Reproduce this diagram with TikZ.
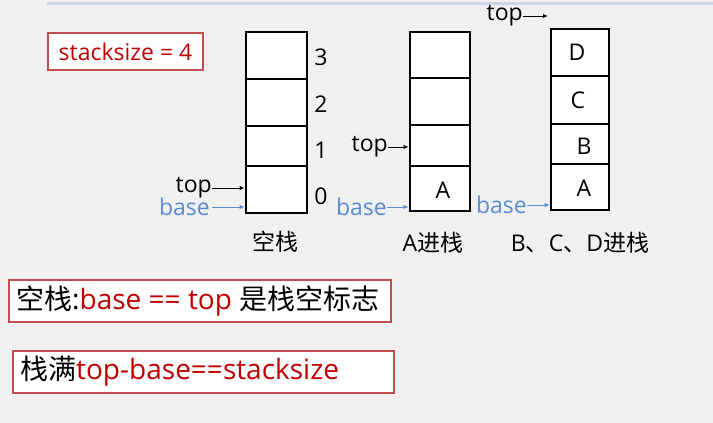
\documentclass[tikz,border=0pt]{standalone}
\usepackage{fontspec}
\setmainfont{Open Sans}
\newfontfamily\cjk{Noto Sans CJK SC}
\usetikzlibrary{arrows.meta}
\definecolor{bg}{HTML}{F0F0F0}
\definecolor{redtxt}{HTML}{C00000}
\definecolor{redline}{HTML}{C0504D}
\definecolor{basecol}{HTML}{5B8BD3}
\definecolor{topline}{HTML}{C9D7E6}
\tikzset{
  cell/.style={draw=black, line width=2.8pt, fill=white, inner sep=0pt},
  lbl/.style={inner sep=0pt, font=\fontsize{23}{25}\selectfont},
  redbox/.style={draw=redline, line width=1.5pt, fill=white},
  ptr/.style={-{Latex[length=5pt,width=4.5pt]}, line width=1pt},
  bptr/.style={ptr, draw=basecol},
}
\begin{document}
\begin{tikzpicture}[x=1pt,y=-1pt]
\fill[bg] (0,0) rectangle (713,423);
\useasboundingbox (0,0) rectangle (713,423);
\draw[topline, line width=3pt] (47,3) -- (713,3);

% stacksize box
\node[redbox, lbl, text=redtxt, minimum width=155pt, minimum height=37pt] (ss) at (125.5,51.5) {stacksize = 4};

% stack 1
\node[cell, minimum width=61pt, minimum height=47pt] (a3) at (276.5,55.5) {};
\node[cell, minimum width=61pt, minimum height=47pt] (a2) at (276.5,102.5) {};
\node[cell, minimum width=61pt, minimum height=40pt] (a1) at (276.5,146) {};
\node[cell, minimum width=61pt, minimum height=47pt] (a0) at (276.5,189.5) {};
\node[lbl] (n3) at (321,57) {3};
\node[lbl] (n2) at (321,104) {2};
\node[lbl] (n1) at (321,150) {1};
\node[lbl] (n0) at (321,196) {0};
\node[lbl, anchor=east] (top1) at (212,188) {top};
\node[lbl, anchor=east, text=basecol] (base1) at (210,207) {base};
\draw[ptr] (top1.east) -- (top1.east -| a0.west);
\draw[bptr] (base1.east) ++(2,0) -- (base1.east -| a0.west);
\node[lbl] (cap1) at (275,242) {\cjk 空栈};

% stack 2
\node[cell, minimum width=60pt, minimum height=46pt] (b3) at (440,55) {};
\node[cell, minimum width=60pt, minimum height=47pt] (b2) at (440,101.5) {};
\node[cell, minimum width=60pt, minimum height=41pt] (b1) at (440,145.5) {};
\node[cell, minimum width=60pt, minimum height=45pt] (b0) at (440,188.5) {};
\node[lbl] (bA) at (443,190) {A};
\node[lbl, anchor=east] (top2) at (388,147) {top};
\node[lbl, anchor=east, text=basecol] (base2) at (387,207) {base};
\draw[ptr] (top2.east) -- (top2.east -| b1.west);
\draw[bptr] (base2.east) -- (base2.east -| b0.west);
\node[lbl] (cap2) at (433,243) {A\cjk 进栈};

% stack 3
\node[cell, minimum width=58pt, minimum height=47pt] (c3) at (580,52.5) {};
\node[cell, minimum width=58pt, minimum height=48pt] (c2) at (580,100) {};
\node[cell, minimum width=58pt, minimum height=40pt] (c1) at (580,144) {};
\node[cell, minimum width=58pt, minimum height=46pt] (c0) at (580,187) {};
\node[lbl] (cD) at (577,52) {D};
\node[lbl] (cC) at (578,100) {C};
\node[lbl] (cB) at (584,146) {B};
\node[lbl] (cA) at (584,188) {A};
\node[lbl, anchor=east] (top3) at (523,16) {top};
\coordinate (top3end) at (548,15);
\draw[ptr] (top3.east) -- (top3.east -| top3end);
\node[lbl, anchor=east, text=basecol] (base3) at (527,205) {base};
\draw[bptr] (base3.east) -- (base3.east -| c0.west);
\node[lbl] (cap3) at (580,243) {B{\cjk 、}C{\cjk 、}D{\cjk 进栈}};

% bottom boxes
\node[redbox, anchor=north west, minimum width=382pt, minimum height=42pt, inner sep=0pt] (box1) at (8,279) {};
\node[anchor=west, inner sep=0pt, font=\fontsize{28}{30}\selectfont] (t1) at (16,301) {{\cjk 空栈}:\textcolor{redtxt}{base == top} {\cjk 是栈空标志}};
\node[redbox, anchor=north west, minimum width=381pt, minimum height=42pt, inner sep=0pt] (box2) at (12,350) {};
\node[anchor=west, inner sep=0pt, font=\fontsize{28}{30}\selectfont] (t2) at (20,371) {{\cjk 栈满}\textcolor{redtxt}{top-base==stacksize}};
\end{tikzpicture}
\end{document}
